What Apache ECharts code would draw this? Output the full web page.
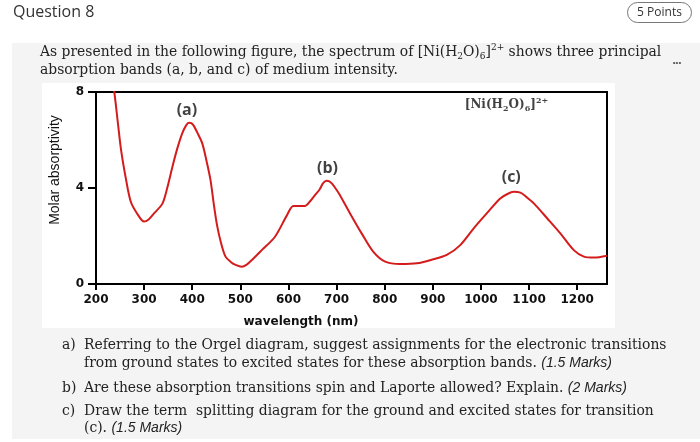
<!DOCTYPE html>
<html>
<head>
<meta charset="utf-8">
<script src="https://cdn.jsdelivr.net/npm/echarts@6/dist/echarts.min.js"></script>
<style>html,body{margin:0;padding:0;background:#fff;}#c{width:700px;height:442px;}</style>
</head>
<body>
<div id="c"></div>
<script>
// wavelength (nm)
var wavelength = [230, 238, 245, 252, 262, 272, 285, 300, 310, 321, 338, 348, 359, 369, 379, 387, 393, 398, 403, 412, 421, 430, 438, 445, 452, 460, 469, 480, 490, 503, 514, 524, 545, 572, 597, 610, 622, 634, 645, 655, 665, 672, 679, 685, 690, 698, 707, 728, 752, 776, 801, 832, 867, 901, 929, 957, 985, 1012, 1040, 1055, 1068, 1082, 1095, 1110, 1138, 1165, 1193, 1214, 1235, 1262];
// molar absorptivity
var absorptivity = [9.0, 8.0, 6.8, 5.6, 4.4, 3.45, 2.95, 2.6, 2.7, 2.95, 3.35, 4.0, 4.9, 5.65, 6.27, 6.6, 6.72, 6.7, 6.6, 6.25, 5.85, 5.1, 4.33, 3.3, 2.4, 1.7, 1.15, 0.92, 0.8, 0.72, 0.82, 1.0, 1.42, 1.97, 2.87, 3.25, 3.25, 3.25, 3.45, 3.7, 3.95, 4.2, 4.3, 4.28, 4.19, 3.98, 3.7, 2.94, 2.11, 1.35, 0.93, 0.83, 0.86, 1.03, 1.21, 1.62, 2.32, 2.94, 3.56, 3.75, 3.84, 3.81, 3.62, 3.36, 2.73, 2.11, 1.41, 1.14, 1.10, 1.18];
var xTicks = [200, 300, 400, 500, 600, 700, 800, 900, 1000, 1100, 1200];
var yTicks = [0, 4, 8];
var bandLabels = ['(a)', '(b)', '(c)'];
var bandLabelX = [389, 681, 1063];
var bandLabelY = [7.25, 4.83, 4.42];

var lineData = wavelength.map(function (w, i) { return [w, absorptivity[i]]; });
var labelData = bandLabels.map(function (t, i) { return [bandLabelX[i], bandLabelY[i], t]; });

var serif = '"DejaVu Serif", "Liberation Serif", serif';
var sans = '"Liberation Sans", Arial, sans-serif';
var richBase = {
  s: { fontSize: 9, lineHeight: 10, verticalAlign: 'bottom', fontFamily: serif, color: '#222' },
  p: { fontSize: 9, lineHeight: 10, verticalAlign: 'top', fontFamily: serif, color: '#222' },
  i: { fontSize: 14, lineHeight: 18, fontStyle: 'italic', fontFamily: sans, color: '#222' }
};
function txt(x, y, text) {
  return { type: 'text', x: x, y: y, z: 5, style: { text: text, fontFamily: serif, fontSize: 13.9, lineHeight: 18, fill: '#222', verticalAlign: 'middle', rich: richBase } };
}

var chart = echarts.init(document.getElementById('c'), null, { renderer: 'canvas' });
chart.setOption({
  animation: false,
  backgroundColor: '#fff',
  grid: { left: 96, right: 93, top: 92, bottom: 158, show: true, borderColor: '#000', borderWidth: 2, backgroundColor: 'transparent', z: 3 },
  xAxis: {
    type: 'value', min: 200, max: 1262, interval: 100,
    splitLine: { show: false },
    axisLine: { onZero: false, lineStyle: { color: '#000', width: 2 } },
    axisTick: { show: true, length: 6, lineStyle: { color: '#000', width: 2 } },
    axisLabel: { showMaxLabel: false, color: '#111', fontFamily: '"DejaVu Sans", sans-serif', fontWeight: 'bold', fontSize: 12, margin: 10,
      formatter: function (v) { return xTicks.indexOf(v) >= 0 ? String(v) : ''; } }
  },
  yAxis: {
    type: 'value', min: 0, max: 8, interval: 4,
    splitLine: { show: false },
    axisLine: { lineStyle: { color: '#000', width: 2 } },
    axisTick: { show: true, length: 8, lineStyle: { color: '#000', width: 2 } },
    axisLabel: { color: '#111', fontFamily: '"DejaVu Sans", sans-serif', fontWeight: 'bold', fontSize: 12, margin: 12,
      formatter: function (v) { return yTicks.indexOf(v) >= 0 ? String(v) : ''; } }
  },
  series: [
    { type: 'line', data: lineData, smooth: 0.3, showSymbol: false, clip: true, z: 4,
      lineStyle: { color: '#d41c1c', width: 2 } },
    { type: 'scatter', data: labelData, symbolSize: 0, z: 5,
      label: { show: true, position: 'inside', formatter: function (p) { return p.value[2]; },
        color: '#111', fontFamily: '"Open Sans", sans-serif', fontSize: 16, fontWeight: 'bold' } },
    { type: 'scatter', data: [[1053, 7.46]], symbolSize: 0, z: 5,
      label: { show: true, position: 'inside',
        formatter: '[Ni(H{s|2}O){s|6}]{p|2+}',
        color: '#111', fontFamily: serif, fontWeight: 'bold', fontSize: 12, lineHeight: 16,
        rich: {
          s: { fontSize: 8, lineHeight: 8, verticalAlign: 'bottom', fontWeight: 'bold', fontFamily: serif, color: '#111' },
          p: { fontSize: 8, lineHeight: 8, verticalAlign: 'top', fontWeight: 'bold', fontFamily: serif, color: '#111' }
        } } }
  ],
  graphic: [
    { type: 'rect', z: -2, shape: { x: 12, y: 43, width: 688, height: 396 }, style: { fill: '#f4f4f4' } },
    { type: 'rect', z: -1, shape: { x: 42, y: 83, width: 573, height: 245 }, style: { fill: '#fff' } },
    { type: 'text', x: 13, y: 12, z: 5, style: { text: 'Question 8', fontFamily: '"Open Sans", sans-serif', fontSize: 16, fill: '#333', verticalAlign: 'middle' } },
    { type: 'rect', z: 5, shape: { x: 627.5, y: 2.5, width: 64, height: 20, r: 10 }, style: { fill: '#fff', stroke: '#777', lineWidth: 1 } },
    { type: 'text', x: 659.5, y: 12.5, z: 6, style: { text: '5 Points', fontFamily: '"Open Sans", sans-serif', fontSize: 12, fill: '#333', align: 'center', verticalAlign: 'middle' } },
    txt(40, 52, 'As presented in the following figure, the spectrum of [Ni(H{s|2}O){s|6}]{p|2+} shows three principal'),
    txt(40, 70, 'absorption bands (a, b, and c) of medium intensity.'),
    { type: 'text', x: 677, y: 63, z: 5, style: { text: '•••', fontFamily: sans, fontSize: 8, fill: '#555', align: 'center', verticalAlign: 'middle' } },
    { type: 'text', x: 55, y: 170, rotation: Math.PI / 2, z: 5, style: { text: 'Molar absorptivity', fontFamily: sans, fontSize: 14, fill: '#111', align: 'center', verticalAlign: 'middle' } },
    { type: 'text', x: 301, y: 322, z: 5, style: { text: 'wavelength (nm)', fontFamily: '"DejaVu Sans", sans-serif', fontWeight: 'bold', fontSize: 12, fill: '#111', align: 'center', verticalAlign: 'middle' } },
    txt(62, 345, 'a)'),
    txt(84, 345, 'Referring to the Orgel diagram, suggest assignments for the electronic transitions'),
    txt(84, 363, 'from ground states to excited states for these absorption bands. {i|(1.5 Marks)}'),
    txt(62, 388, 'b)'),
    txt(84, 388, 'Are these absorption transitions spin and Laporte allowed? Explain. {i|(2 Marks)}'),
    txt(62, 411, 'c)'),
    txt(84, 411, 'Draw the term  splitting diagram for the ground and excited states for transition'),
    txt(84, 428, '(c). {i|(1.5 Marks)}')
  ]
});
</script>
</body>
</html>
